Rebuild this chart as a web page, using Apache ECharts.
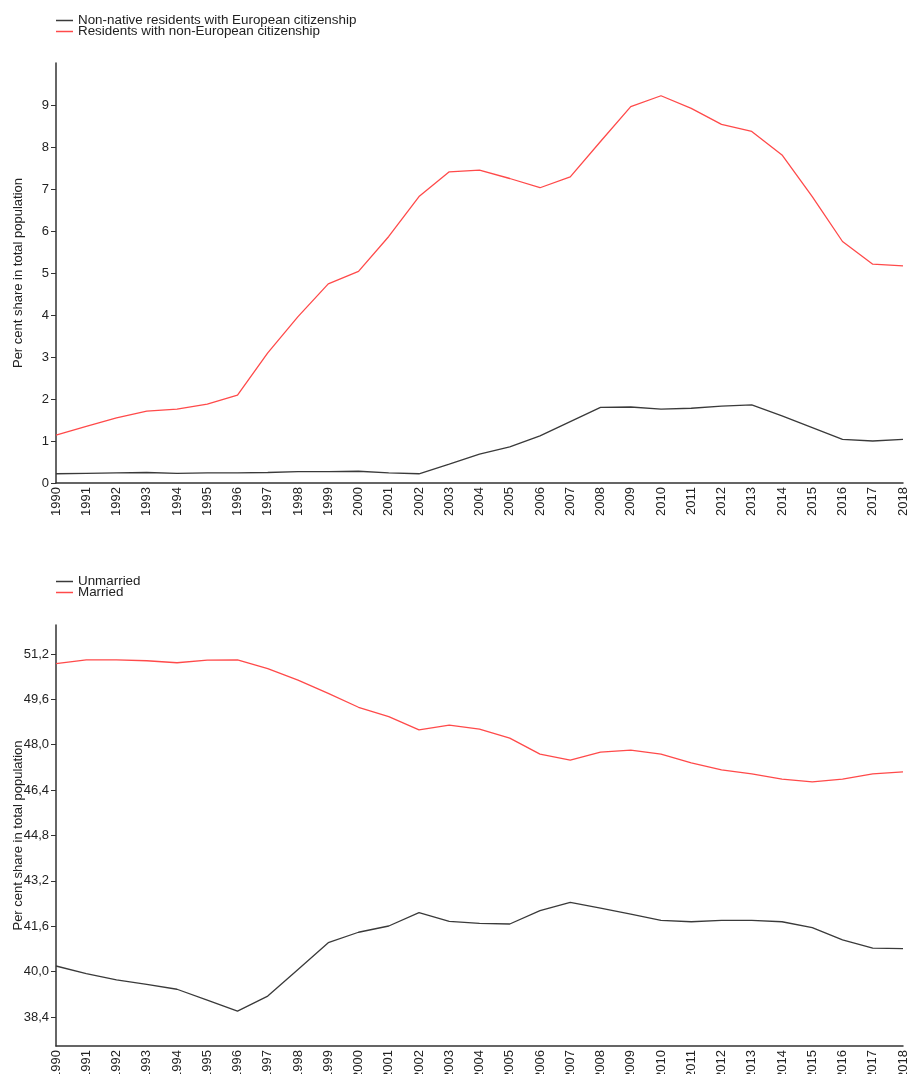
<!DOCTYPE html>
<html>
<head>
<meta charset="utf-8">
<title>Population shares</title>
<script src="https://cdn.jsdelivr.net/npm/echarts@6/dist/echarts.min.js"></script>
<style>
  html, body { margin: 0; padding: 0; background: #fff; }
  #chart { width: 909px; height: 1074px; }
</style>
</head>
<body>
<div id="chart"></div>
<script>
// Years on the shared x axis
const years = ['1990','1991','1992','1993','1994','1995','1996','1997','1998','1999',
  '2000','2001','2002','2003','2004','2005','2006','2007','2008','2009',
  '2010','2011','2012','2013','2014','2015','2016','2017','2018'];

// Upper panel: citizenship shares (per cent of total population)
const europeanCitizens = [0.22, 0.23, 0.24, 0.25, 0.23, 0.24, 0.24, 0.25, 0.27, 0.27,
  0.28, 0.24, 0.22, 0.45, 0.69, 0.86, 1.12, 1.46, 1.80, 1.81,
  1.76, 1.78, 1.83, 1.86, 1.60, 1.32, 1.04, 1.00, 1.04];
const nonEuropeanCitizens = [1.14, 1.35, 1.55, 1.71, 1.76, 1.88, 2.09, 3.10, 3.96, 4.74,
  5.04, 5.87, 6.82, 7.41, 7.45, 7.25, 7.03, 7.29, 8.13, 8.96,
  9.22, 8.92, 8.54, 8.37, 7.81, 6.82, 5.75, 5.21, 5.17];

// Lower panel: marital status shares (per cent of total population)
const unmarried = [40.20, 39.93, 39.71, 39.55, 39.38, 39.00, 38.61, 39.14, 40.08, 41.02,
  41.39, 41.61, 42.08, 41.77, 41.70, 41.68, 42.15, 42.44, 42.24, 42.03,
  41.81, 41.76, 41.81, 41.81, 41.76, 41.55, 41.12, 40.83, 40.81];
const married = [50.86, 50.99, 50.99, 50.96, 50.89, 50.98, 50.99, 50.68, 50.28, 49.81,
  49.32, 48.99, 48.52, 48.69, 48.55, 48.23, 47.67, 47.46, 47.74, 47.81,
  47.67, 47.36, 47.11, 46.97, 46.79, 46.69, 46.79, 46.97, 47.04];

// Tick values
const upperTicks = [0, 1, 2, 3, 4, 5, 6, 7, 8, 9];
const lowerTicks = [38.4, 40.0, 41.6, 43.2, 44.8, 46.4, 48.0, 49.6, 51.2];

const FONT = '"Liberation Sans", Arial, sans-serif';
const DARK = '#3a3a3a';
const RED = '#ff4a4a';
const AXIS = '#333';

const chart = echarts.init(document.getElementById('chart'), null, { renderer: 'canvas' });

function xAxis(gridIndex) {
  return {
    type: 'category', gridIndex, data: years, boundaryGap: false,
    axisLine: { lineStyle: { color: AXIS, width: 1.5 } },
    axisTick: { show: false },
    axisLabel: { interval: 0, rotate: 90, margin: 4, color: '#222', fontSize: 13, fontFamily: FONT,
      hideOverlap: false },
    splitLine: { show: false }
  };
}

function yAxis(gridIndex, min, max, ticks, fmt) {
  return {
    type: 'value', gridIndex, min, max,
    name: 'Per cent share in total population',
    nameLocation: 'middle', nameGap: 31, nameRotate: 90, nameMoveOverlap: false,
    nameTextStyle: { color: '#222', fontSize: 13, fontFamily: FONT },
    axisLine: { show: true, lineStyle: { color: AXIS, width: 1.5 } },
    axisTick: { show: true, length: 5, lineStyle: { color: AXIS }, customValues: ticks },
    axisLabel: { margin: 7, color: '#222', fontSize: 13, fontFamily: FONT, customValues: ticks, formatter: fmt },
    splitLine: { show: false }
  };
}

function legend(top, names) {
  return {
    left: 56, top, orient: 'vertical', padding: 0, itemGap: -2,
    itemWidth: 17, itemHeight: 1.5, icon: 'rect',
    data: names,
    textStyle: { color: '#222', fontSize: 13.4, fontFamily: FONT }
  };
}

function line(name, xi, data, color) {
  return {
    name, type: 'line', xAxisIndex: xi, yAxisIndex: xi, data,
    symbol: 'none', smooth: false,
    lineStyle: { color, width: 1.3 }, itemStyle: { color },
    emphasis: { disabled: true }
  };
}

chart.setOption({
  animation: false,
  backgroundColor: '#fff',
  legend: [
    legend(14, ['Non-native residents with European citizenship', 'Residents with non-European citizenship']),
    legend(575, ['Unmarried', 'Married'])
  ],
  grid: [
    { left: 56, right: 6, top: 63, height: 420, outerBoundsMode: 'none', containLabel: false },
    { left: 56, right: 6, top: 625, height: 421, outerBoundsMode: 'none', containLabel: false }
  ],
  xAxis: [xAxis(0), xAxis(1)],
  yAxis: [
    yAxis(0, 0, 10, upperTicks, v => String(v)),
    yAxis(1, 37.38, 52.22, lowerTicks, v => v.toFixed(1).replace('.', ','))
  ],
  series: [
    line('Non-native residents with European citizenship', 0, europeanCitizens, DARK),
    line('Residents with non-European citizenship', 0, nonEuropeanCitizens, RED),
    line('Unmarried', 1, unmarried, DARK),
    line('Married', 1, married, RED)
  ]
});
</script>
</body>
</html>
